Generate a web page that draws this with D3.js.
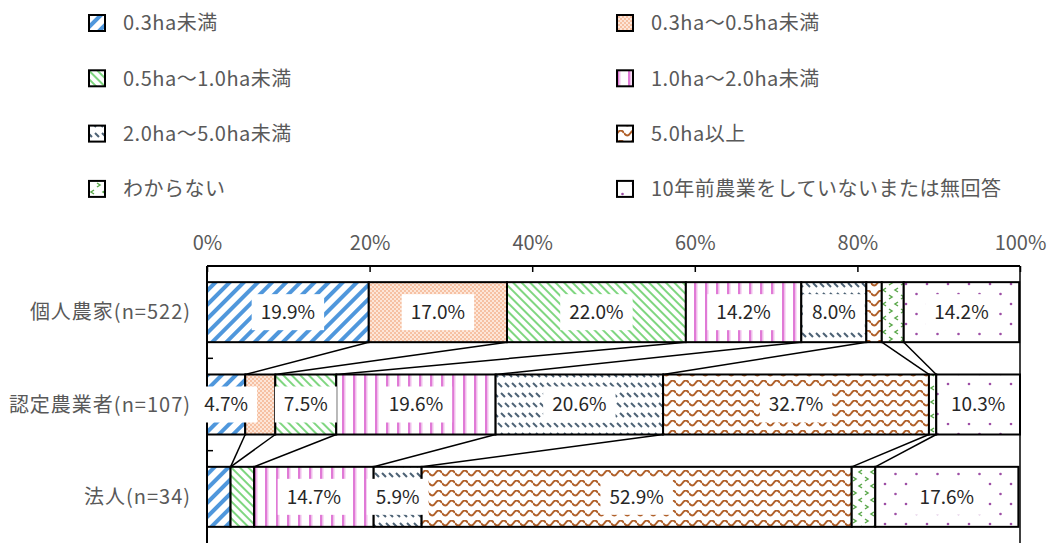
<!DOCTYPE html>
<html>
<head>
<meta charset="utf-8">
<script src="https://cdn.jsdelivr.net/npm/d3@7"></script>
<style>
  body { margin: 0; background: #fff; }
  text { font-family: "Noto Sans CJK JP", "Noto Sans", sans-serif; }
</style>
</head>
<body>
<svg id="chart" width="1048" height="543"></svg>
<script>
const categories = ['個人農家(n=522)', '認定農業者(n=107)', '法人(n=34)'];
const seriesNames = [
  '0.3ha未満', '0.3ha～0.5ha未満', '0.5ha～1.0ha未満', '1.0ha～2.0ha未満',
  '2.0ha～5.0ha未満', '5.0ha以上', 'わからない', '10年前農業をしていないまたは無回答'
];
const valuesKojin = [19.9, 17.0, 22.0, 14.2, 8.0, 1.9, 2.7, 14.2];
const valuesNintei = [4.7, 3.7, 7.5, 19.6, 20.6, 32.7, 0.9, 10.3];
const valuesHoujin = [2.9, 0.0, 2.9, 14.7, 5.9, 52.9, 2.9, 17.6];
const xTicks = [0, 20, 40, 60, 80, 100];

const rows = [valuesKojin, valuesNintei, valuesHoujin];

const svg = d3.select('#chart');
const defs = svg.append('defs');

// patterns (one per series, same order as seriesNames)
function pat(id, w, h, transform) {
  const p = defs.append('pattern').attr('id', id)
    .attr('patternUnits', 'userSpaceOnUse')
    .attr('width', w).attr('height', h);
  if (transform) p.attr('patternTransform', transform);
  p.append('rect').attr('width', w).attr('height', h).attr('fill', '#fff');
  return p;
}
// wide upward diagonal, blue
pat('p0', 10, 10, 'rotate(45)')
  .append('rect').attr('x', 0).attr('width', 4).attr('height', 10).attr('fill', '#4f97dc');
// small checker, salmon
{
  const p = pat('p1', 4, 4);
  p.append('rect').attr('width', 4).attr('height', 4).attr('fill', '#f6c1a3');
  p.append('rect').attr('width', 2).attr('height', 2).attr('fill', '#fde6d8');
  p.append('rect').attr('x', 2).attr('y', 2).attr('width', 2).attr('height', 2).attr('fill', '#fde6d8');
}
// downward diagonal, green
pat('p2', 6, 6, 'rotate(-45)')
  .append('rect').attr('width', 2).attr('height', 6).attr('fill', '#7fd680');
// vertical stripes, pink
{
  const p = pat('p3', 11, 10);
  p.append('rect').attr('x', 1).attr('width', 2.5).attr('height', 10).attr('fill', '#e07ad6');
  p.append('rect').attr('x', 3.5).attr('width', 1).attr('height', 10).attr('fill', '#f1c0ec');
}
// dashed downward diagonal, slate
{
  const p = pat('p4', 7, 20);
  p.append('path').attr('d', 'M1,3 L5,7').attr('stroke', '#4d6275').attr('stroke-width', 2);
  p.append('path').attr('d', 'M4,13 L8,17 M-3,13 L1,17').attr('stroke', '#4d6275').attr('stroke-width', 2);
}
// wave, brown
pat('p5', 13, 10)
  .append('path').attr('d', 'M0,3 Q3.25,8 6.5,3 T13,3')
  .attr('fill', 'none').attr('stroke', '#b0602a').attr('stroke-width', 2);
// divot, green
{
  const p = pat('p6', 12, 14);
  p.append('path').attr('d', 'M1,1 L4,3 L1,5').attr('fill', 'none').attr('stroke', '#5aa84a').attr('stroke-width', 1.5);
  p.append('path').attr('d', 'M10,8 L7,10 L10,12').attr('fill', 'none').attr('stroke', '#5aa84a').attr('stroke-width', 1.5);
}
// sparse dots, purple
{
  const p = pat('p7', 21, 20);
  p.append('circle').attr('cx', 3).attr('cy', 4).attr('r', 1.3).attr('fill', '#9d4da5');
  p.append('circle').attr('cx', 13.5).attr('cy', 14).attr('r', 1.3).attr('fill', '#9d4da5');
}

const x = d3.scaleLinear().domain([0, 100]).range([207, 1020]);
const y = d3.scaleBand().domain(categories).range([266, 543])
  .paddingInner(0.35).paddingOuter(0.175);

const textColor = '#595959';

// legend
const legend = svg.append('g');
seriesNames.forEach((name, i) => {
  const col = i % 2, row = Math.floor(i / 2);
  const lx = col === 0 ? 89 : 617;
  const ly = 23 + row * 55.3;
  legend.append('rect').attr('x', lx).attr('y', ly - 8).attr('width', 16).attr('height', 16)
    .attr('fill', `url(#p${i})`).attr('stroke', '#000').attr('stroke-width', 2);
  legend.append('text').attr('x', lx + 34).attr('y', ly).attr('dy', '0.36em')
    .attr('font-size', 20).attr('letter-spacing', 0.5).attr('fill', textColor).text(name);
});

// top axis
const xAxis = svg.append('g').attr('transform', `translate(0,${y.range()[0]})`)
  .call(d3.axisTop(x).tickValues(xTicks).tickFormat(d => d + '%').tickSize(-6).tickPadding(16));
xAxis.select('.domain').remove();
xAxis.selectAll('line').attr('stroke', '#000').attr('stroke-width', 1.5);
xAxis.selectAll('text').attr('font-size', 20).attr('fill', textColor)
  .style('font-family', '"Noto Sans CJK JP", sans-serif');

// frame: top, left, right
const [y0, y1] = y.range();
svg.append('line').attr('x1', x(0)).attr('x2', x(100)).attr('y1', y0).attr('y2', y0)
  .attr('stroke', '#000').attr('stroke-width', 2);
svg.append('line').attr('x1', x(0)).attr('x2', x(0)).attr('y1', y0).attr('y2', y1)
  .attr('stroke', '#000').attr('stroke-width', 2);
svg.append('line').attr('x1', x(100)).attr('x2', x(100)).attr('y1', y0).attr('y2', y1)
  .attr('stroke', '#000').attr('stroke-width', 1.5);
// category boundary ticks (inward)
const step = y.step();
[1, 2].forEach(k => {
  const ty = y0 + step * k;
  svg.append('line').attr('x1', x(0)).attr('x2', x(0) + 6).attr('y1', ty).attr('y2', ty)
    .attr('stroke', '#000').attr('stroke-width', 1.5);
});

// category labels
categories.forEach(c => {
  svg.append('text').attr('x', 191).attr('y', y(c) + y.bandwidth() / 2).attr('dy', '0.36em')
    .attr('text-anchor', 'end').attr('font-size', 20).attr('letter-spacing', 1)
    .attr('fill', textColor).text(c);
});

// stacked segments
const stacked = rows.map(vals => {
  let acc = 0;
  return vals.map((v, i) => { const s = { i, x0: acc, x1: acc + v, v }; acc += v; return s; });
});

// series lines between bars
for (let r = 0; r < rows.length - 1; r++) {
  for (let k = 0; k < seriesNames.length - 1; k++) {
    const a = stacked[r][k].x1, b = stacked[r + 1][k].x1;
    svg.append('line')
      .attr('x1', x(a)).attr('y1', y(categories[r]) + y.bandwidth())
      .attr('x2', x(b)).attr('y2', y(categories[r + 1]))
      .attr('stroke', '#000').attr('stroke-width', 1.5);
  }
}

stacked.forEach((segs, r) => {
  const g = svg.append('g');
  const by = y(categories[r]);
  g.selectAll('rect').data(segs.filter(s => s.v > 0)).enter().append('rect')
    .attr('x', s => x(s.x0)).attr('y', by)
    .attr('width', s => x(s.x1) - x(s.x0)).attr('height', y.bandwidth())
    .attr('fill', s => `url(#p${s.i})`)
    .attr('stroke', '#000').attr('stroke-width', 2);

  segs.filter(s => s.v >= 4.5).forEach(s => {
    const cx = (x(s.x0) + x(s.x1)) / 2, cy = by + y.bandwidth() / 2;
    const label = s.v.toFixed(1) + '%';
    const t = g.append('text').attr('x', cx).attr('y', cy).attr('dy', '0.36em')
      .attr('text-anchor', 'middle').attr('font-size', 19).attr('fill', '#262626').text(label);
    const bb = t.node().getBBox();
    g.insert('rect', () => t.node())
      .attr('x', bb.x - 9).attr('y', cy - 18).attr('width', bb.width + 18).attr('height', 36)
      .attr('fill', '#fff');
  });
});
</script>
</body>
</html>
